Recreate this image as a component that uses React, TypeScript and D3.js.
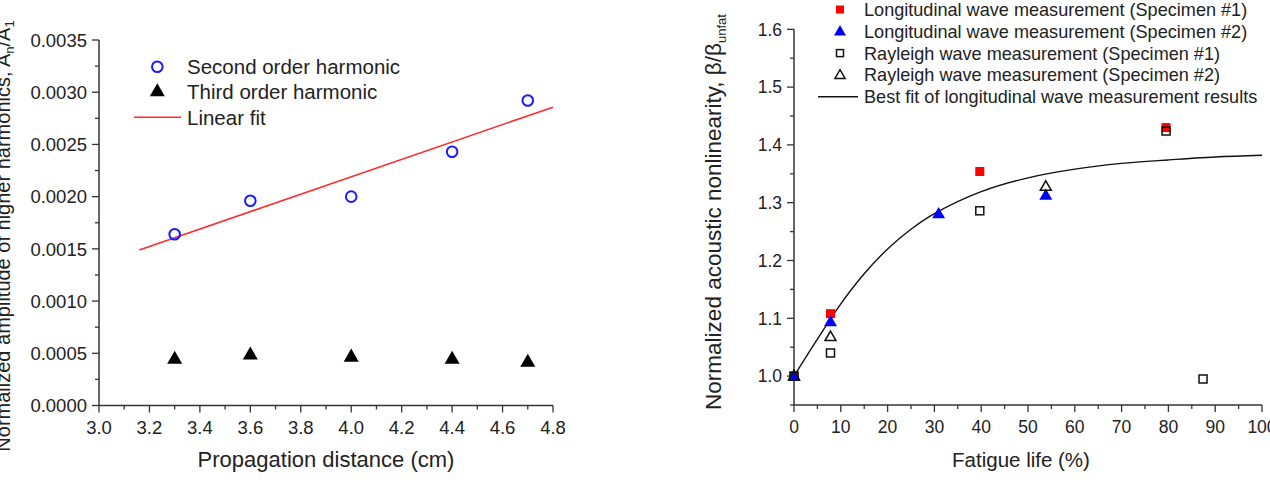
import React from "react";
import * as d3 from "d3";

// Left panel: harmonic amplitudes vs propagation distance
const distanceCm = [3.3, 3.6, 4.0, 4.4, 4.7];
const secondHarmonic = [0.00164, 0.00196, 0.002, 0.00243, 0.00292];
const thirdHarmonic = [0.00045, 0.00049, 0.00047, 0.00045, 0.00042];
const fitRange = [3.16, 4.8];

// Right panel: normalized nonlinearity vs fatigue life
const longSpec1Life = [0, 7.8, 39.7, 79.5];
const longSpec1Beta = [1.0, 1.108, 1.354, 1.43];
const longSpec2Life = [0, 7.8, 30.9, 53.8];
const longSpec2Beta = [1.0, 1.094, 1.281, 1.313];
const raylSpec1Life = [0, 7.8, 39.7, 79.5, 87.4];
const raylSpec1Beta = [1.0, 1.04, 1.286, 1.424, 0.995];
const raylSpec2Life = [0, 7.8, 53.8];
const raylSpec2Beta = [1.0, 1.068, 1.328];
const bestFitLife = [0, 5, 10, 15, 20, 25, 30, 40, 50, 60, 70, 80, 90, 100];
const bestFitBeta = [1.0, 1.064, 1.125, 1.177, 1.22, 1.254, 1.281, 1.319, 1.343, 1.358, 1.368, 1.374, 1.379, 1.382];

const FONT = "'Liberation Sans', Arial, Helvetica, sans-serif";
const INK = "#222";
const AXIS = "#333";

const xL = d3.scaleLinear().domain([3.0, 4.8]).range([99, 553]);
const yL = d3.scaleLinear().domain([0, 0.0035]).range([405.5, 40]);
const xR = d3.scaleLinear().domain([0, 100]).range([794, 1262]);
const yR = d3.scaleLinear().domain([0.95, 1.6]).range([405, 29.3]);

const tri = (cx: number, cy: number, s: number) => {
  const h = s * 0.87;
  return `M${cx},${cy - h * 0.6}L${cx + s / 2},${cy + h * 0.4}L${cx - s / 2},${cy + h * 0.4}Z`;
};

function linearFit(xs: number[], ys: number[]) {
  const mx = d3.mean(xs)!;
  const my = d3.mean(ys)!;
  let sxy = 0, sxx = 0;
  xs.forEach((x, i) => {
    sxy += (x - mx) * (ys[i] - my);
    sxx += (x - mx) * (x - mx);
  });
  const slope = sxy / sxx;
  return (x: number) => my + slope * (x - mx);
}

type AxisProps = {
  x: d3.ScaleLinear<number, number>;
  y: d3.ScaleLinear<number, number>;
  xMajor: number[];
  xMinor: number[];
  yMajor: number[];
  yMinor: number[];
  xFmt: (v: number) => string;
  yFmt: (v: number) => string;
  tickFont: number;
};

function Axes({ x, y, xMajor, xMinor, yMajor, yMinor, xFmt, yFmt, tickFont }: AxisProps) {
  const [x0, x1] = x.range();
  const [y0, y1] = y.range();
  return (
    <g>
      <line x1={x0} x2={x0} y1={y0} y2={y1} stroke={AXIS} strokeWidth={1.5} />
      <line x1={x0} x2={x1} y1={y0} y2={y0} stroke={AXIS} strokeWidth={1.5} />
      {yMajor.map((v) => (
        <g key={"ym" + v}>
          <line x1={x0 - 7} x2={x0} y1={y(v)} y2={y(v)} stroke={AXIS} strokeWidth={1.3} />
          <text x={x0 - 12} y={y(v)} dy="0.36em" textAnchor="end" fontSize={tickFont} fill={INK} fontFamily={FONT}>
            {yFmt(v)}
          </text>
        </g>
      ))}
      {yMinor.map((v) => (
        <line key={"yn" + v} x1={x0 - 4} x2={x0} y1={y(v)} y2={y(v)} stroke={AXIS} strokeWidth={1.3} />
      ))}
      {xMajor.map((v) => (
        <g key={"xm" + v}>
          <line x1={x(v)} x2={x(v)} y1={y0} y2={y0 + 7} stroke={AXIS} strokeWidth={1.3} />
          <text x={x(v)} y={y0 + 28} textAnchor="middle" fontSize={tickFont} fill={INK} fontFamily={FONT}>
            {xFmt(v)}
          </text>
        </g>
      ))}
      {xMinor.map((v) => (
        <line key={"xn" + v} x1={x(v)} x2={x(v)} y1={y0} y2={y0 + 4} stroke={AXIS} strokeWidth={1.3} />
      ))}
    </g>
  );
}

export default function App() {
  const fit = linearFit(distanceCm, secondHarmonic);
  const fitLine = d3.line<number>().x((d) => xL(d)).y((d) => yL(fit(d)));

  const bestFit = d3
    .line<number>()
    .x((d) => xR(d))
    .y((_, i) => yR(bestFitBeta[i]))
    .curve(d3.curveCatmullRom.alpha(0.5));

  const lMajorX = d3.range(0, 10).map((i) => 3.0 + i * 0.2);
  const lMinorX = d3.range(0, 9).map((i) => 3.1 + i * 0.2);
  const lMajorY = d3.range(0, 8).map((i) => i * 0.0005);
  const lMinorY = d3.range(0, 7).map((i) => 0.00025 + i * 0.0005);

  const rMajorX = d3.range(0, 11).map((i) => i * 10);
  const rMinorX = d3.range(0, 10).map((i) => 5 + i * 10);
  const rMajorY = d3.range(0, 7).map((i) => 1.0 + i * 0.1);
  const rMinorY = d3.range(0, 7).map((i) => 0.95 + i * 0.1);

  const legendR = [
    "Longitudinal wave measurement (Specimen #1)",
    "Longitudinal wave measurement (Specimen #2)",
    "Rayleigh wave measurement (Specimen #1)",
    "Rayleigh wave measurement (Specimen #2)",
    "Best fit of longitudinal wave measurement results",
  ];
  const legRowY = (i: number) => 9.5 + i * 21.8;

  return (
    <svg
      width={1270}
      height={486}
      style={{ position: "absolute", left: 0, top: 0, background: "#fff" }}
      fontFamily={FONT}
    >
      <rect width={1270} height={486} fill="#fff" />

      {/* ---------- left panel ---------- */}
      <Axes
        x={xL}
        y={yL}
        xMajor={lMajorX}
        xMinor={lMinorX}
        yMajor={lMajorY}
        yMinor={lMinorY}
        xFmt={(v) => v.toFixed(1)}
        yFmt={(v) => v.toFixed(4)}
        tickFont={18.5}
      />
      <path d={fitLine(fitRange) || ""} fill="none" stroke="#ff2a2a" strokeWidth={1.6} />
      {distanceCm.map((d, i) => (
        <circle key={"c" + i} cx={xL(d)} cy={yL(secondHarmonic[i])} r={5.3} fill="none" stroke="#1a1aff" strokeWidth={2} />
      ))}
      {distanceCm.map((d, i) => (
        <path key={"t" + i} d={tri(xL(d), yL(thirdHarmonic[i]), 15)} fill="#000" />
      ))}

      {/* left legend */}
      <circle cx={157.3} cy={66.7} r={5.3} fill="none" stroke="#1a1aff" strokeWidth={2} />
      <path d={tri(157.3, 91, 15)} fill="#000" />
      <line x1={134} x2={181} y1={117.3} y2={117.3} stroke="#ff2a2a" strokeWidth={1.6} />
      {["Second order harmonic", "Third order harmonic", "Linear fit"].map((t, i) => (
        <text key={t} x={187} y={66.7 + i * 25.3} dy="0.36em" fontSize={20.5} fill={INK}>
          {t}
        </text>
      ))}

      <text x={(99 + 553) / 2} y={467} textAnchor="middle" fontSize={22} fill={INK}>
        Propagation distance (cm)
      </text>
      <text transform="translate(10,236) rotate(-90)" textAnchor="middle" fontSize={20} fill={INK}>
        Normalized amplitude of higher harmonics, A
        <tspan fontSize={13} dy={4}>n</tspan>
        <tspan dy={-4}>/A</tspan>
        <tspan fontSize={13} dy={4}>1</tspan>
      </text>

      {/* ---------- right panel ---------- */}
      <Axes
        x={xR}
        y={yR}
        xMajor={rMajorX}
        xMinor={rMinorX}
        yMajor={rMajorY}
        yMinor={rMinorY}
        xFmt={(v) => String(v)}
        yFmt={(v) => v.toFixed(1)}
        tickFont={17.5}
      />
      <path d={bestFit(bestFitLife) || ""} fill="none" stroke="#111" strokeWidth={1.4} />
      {longSpec1Life.map((d, i) => (
        <rect key={"ls1" + i} x={xR(d) - 4.5} y={yR(longSpec1Beta[i]) - 4.5} width={9} height={9} fill="#ff0000" />
      ))}
      {longSpec2Life.map((d, i) => (
        <path key={"ls2" + i} d={tri(xR(d), yR(longSpec2Beta[i]), 13)} fill="#0000ff" />
      ))}
      {raylSpec1Life.map((d, i) => (
        <rect
          key={"rs1" + i}
          x={xR(d) - 4}
          y={yR(raylSpec1Beta[i]) - 4}
          width={8}
          height={8}
          fill="none"
          stroke="#111"
          strokeWidth={1.5}
        />
      ))}
      {raylSpec2Life.map((d, i) => (
        <path key={"rs2" + i} d={tri(xR(d), yR(raylSpec2Beta[i]), 11)} fill="none" stroke="#111" strokeWidth={1.5} />
      ))}

      {/* right legend */}
      <rect x={840 - 4} y={legRowY(0) - 4} width={8} height={8} fill="#ff0000" />
      <path d={tri(840, legRowY(1), 12)} fill="#0000ff" />
      <rect x={840 - 3.5} y={legRowY(2) - 3.5} width={7} height={7} fill="none" stroke="#111" strokeWidth={1.5} />
      <path d={tri(840, legRowY(3), 10)} fill="none" stroke="#111" strokeWidth={1.5} />
      <line x1={818} x2={858} y1={legRowY(4)} y2={legRowY(4)} stroke="#111" strokeWidth={1.4} />
      {legendR.map((t, i) => (
        <text key={t} x={864} y={legRowY(i)} dy="0.36em" fontSize={18.1} fill={INK}>
          {t}
        </text>
      ))}

      <text x={1021} y={467} textAnchor="middle" fontSize={20.5} fill={INK}>
        Fatigue life (%)
      </text>
      <text transform="translate(721,212) rotate(-90)" textAnchor="middle" fontSize={22.5} fill={INK}>
        Normalized acoustic nonlinearity, β/β
        <tspan fontSize={13} dy={5}>unfat</tspan>
      </text>
    </svg>
  );
}
